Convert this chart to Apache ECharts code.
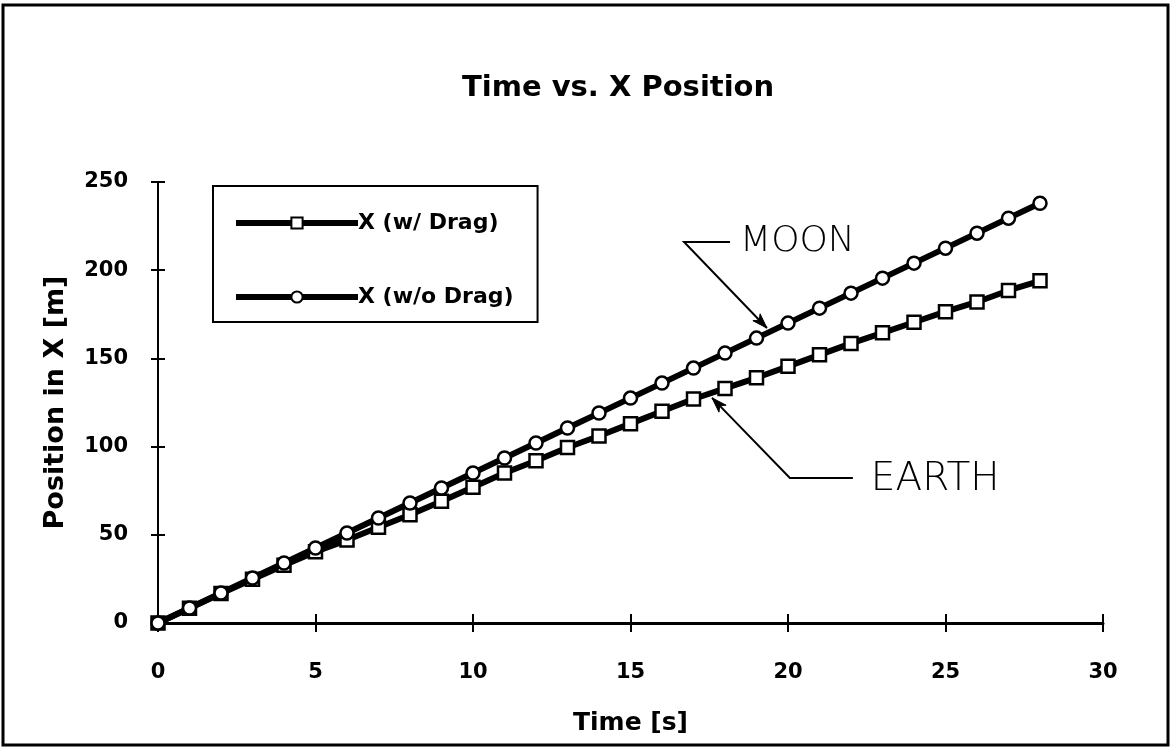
<!DOCTYPE html>
<html>
<head>
<meta charset="utf-8">
<title>Time vs. X Position</title>
<script src="https://cdn.jsdelivr.net/npm/echarts@6/dist/echarts.min.js"></script>
<style>
  html, body { margin: 0; padding: 0; background: #fff; }
  #chart { width: 1172px; height: 749px; }
</style>
</head>
<body>
<div id="chart"></div>
<script>
// Time samples [s]
const timeSeconds = [0, 1, 2, 3, 4, 5, 6, 7, 8, 9, 10, 11, 12, 13, 14, 15, 16, 17, 18, 19, 20, 21, 22, 23, 24, 25, 26, 27, 28];

// Horizontal position [m] with air drag (Earth)
const xWithDrag = [0, 8.4, 16.7, 24.8, 32.7, 40.4, 47, 54.3, 61.4, 69, 77, 85, 92, 99.5, 106, 113, 120, 127, 133, 139, 145.5, 152, 158.5, 164.5, 170.5, 176.5, 182, 188.5, 194];

// Horizontal position [m] without drag (Moon)
const xWithoutDrag = [0, 8.5, 17, 25.5, 34, 42.5, 51, 59.5, 68, 76.5, 85, 93.5, 102, 110.5, 119, 127.5, 136, 144.5, 153, 161.5, 170, 178.5, 187, 195.5, 204, 212.5, 221, 229.5, 238];

const seriesNames = ['X (w/ Drag)', 'X (w/o Drag)'];

// Axis ranges
const timeAxis = { min: 0, max: 30, step: 5 };
const positionAxis = { min: 0, max: 250, step: 50 };

// Hand-drawn callouts, anchored in data space [t, x]
const moonCallout = { label: 'MOON', size: 36, path: [[18.16, 216], [16.70, 216], [19.33, 167.2]], textAt: [18.48, 216] };
const earthCallout = { label: 'EARTH', size: 39, path: [[22.06, 82.2], [20.06, 82.2], [17.59, 127.6]], textAt: [22.63, 81.1] };

const FONT = "'DejaVu Sans', 'Liberation Sans', sans-serif";
const boldText = { color: '#000', fontFamily: FONT, fontWeight: 'bold', fontSize: 21 };

const chart = echarts.init(document.getElementById('chart'), null, { renderer: 'canvas' });

function pairs(xs, ys) { return xs.map((x, i) => [x, ys[i]]); }

function valueAxis(range, extra) {
  return Object.assign({
    type: 'value',
    min: range.min,
    max: range.max,
    interval: range.step,
    gridIndex: 0,
    splitLine: { show: false }
  }, extra);
}

const option = {
  animation: false,
  backgroundColor: '#fff',
  title: {
    text: 'Time vs. X Position',
    left: 462,
    top: 74,
    padding: 0,
    textStyle: { color: '#000', fontFamily: FONT, fontWeight: 'bold', fontSize: 29 }
  },
  grid: { left: 158, right: 69, top: 182, bottom: 126 },
  legend: {
    orient: 'vertical',
    left: 213,
    top: 186,
    padding: [26, 24, 14, 20],
    itemWidth: 122,
    itemHeight: 14,
    itemGap: 52,
    borderColor: '#000',
    borderWidth: 2,
    lineStyle: { width: 6, color: '#000' },
    textStyle: Object.assign({}, boldText, { fontSize: 22, padding: [0, 0, 0, -5] }),
    data: seriesNames
  },
  xAxis: [
    valueAxis(timeAxis, {
      position: 'bottom',
      axisLine: { show: true, onZero: false, lineStyle: { color: '#000', width: 3 } },
      axisTick: { show: true, length: 9, lineStyle: { color: '#000', width: 2 } },
      axisLabel: Object.assign({ margin: 39 }, boldText),
      name: 'Time [s]',
      nameLocation: 'middle',
      nameGap: 88,
      nameMoveOverlap: false,
      nameTextStyle: Object.assign({}, boldText, { fontSize: 25 })
    }),
    valueAxis(timeAxis, {
      position: 'bottom',
      axisLine: { show: false },
      axisTick: { show: true, inside: true, length: 9, lineStyle: { color: '#000', width: 2 } },
      axisLabel: { show: false }
    })
  ],
  yAxis: [
    valueAxis(positionAxis, {
      position: 'left',
      axisLine: { show: true, onZero: false, lineStyle: { color: '#000', width: 2 } },
      axisTick: { show: true, length: 7, lineStyle: { color: '#000', width: 2 } },
      axisLabel: Object.assign({ margin: 30 }, boldText),
      name: 'Position in X [m]',
      nameLocation: 'middle',
      nameGap: 89,
      nameMoveOverlap: false,
      nameTextStyle: Object.assign({}, boldText, { fontSize: 27 })
    }),
    valueAxis(positionAxis, {
      position: 'left',
      axisLine: { show: false },
      axisTick: { show: true, inside: true, length: 7, lineStyle: { color: '#000', width: 2 } },
      axisLabel: { show: false }
    })
  ],
  series: [
    {
      name: seriesNames[0],
      type: 'line',
      data: pairs(timeSeconds, xWithDrag),
      symbol: 'rect',
      symbolSize: 13,
      lineStyle: { color: '#000', width: 6 },
      itemStyle: { color: '#fff', borderColor: '#000', borderWidth: 2.5 },
      z: 2
    },
    {
      name: seriesNames[1],
      type: 'line',
      data: pairs(timeSeconds, xWithoutDrag),
      symbol: 'circle',
      symbolSize: 13,
      lineStyle: { color: '#000', width: 6 },
      itemStyle: { color: '#fff', borderColor: '#000', borderWidth: 2.5 },
      z: 3
    }
  ]
};

chart.setOption(option);

// Callout leaders, arrowheads and handwritten labels
function calloutElements(c) {
  const pts = c.path.map(p => chart.convertToPixel({ gridIndex: 0 }, p));
  const tip = pts[pts.length - 1];
  const prev = pts[pts.length - 2];
  const ang = Math.atan2(tip[1] - prev[1], tip[0] - prev[0]);
  const len = 15, half = 5;
  const cos = Math.cos(ang), sin = Math.sin(ang);
  const bx = tip[0] - len * cos, by = tip[1] - len * sin;
  const nx = -sin, ny = cos;
  const at = chart.convertToPixel({ gridIndex: 0 }, c.textAt);
  return [
    {
      type: 'polyline',
      shape: { points: pts },
      style: { stroke: '#000', lineWidth: 2, fill: null },
      z: 10
    },
    {
      type: 'polygon',
      shape: { points: [tip, [bx + half * nx, by + half * ny], [bx + 4 * cos, by + 4 * sin], [bx - half * nx, by - half * ny]] },
      style: { fill: '#000', stroke: '#000', lineWidth: 1 },
      z: 10
    },
    {
      type: 'text',
      x: at[0],
      y: at[1],
      style: {
        text: c.label,
        fill: '#000',
        font: '200 ' + c.size + "px 'DejaVu Sans', sans-serif",
        textAlign: 'left',
        textVerticalAlign: 'middle'
      },
      z: 10
    }
  ];
}

const frame = {
  type: 'rect',
  shape: { x: 3, y: 5, width: 1165, height: 740 },
  style: { fill: null, stroke: '#000', lineWidth: 3 },
  z: 20
};

chart.setOption({
  graphic: { elements: [frame].concat(calloutElements(moonCallout), calloutElements(earthCallout)) }
});
</script>
</body>
</html>
